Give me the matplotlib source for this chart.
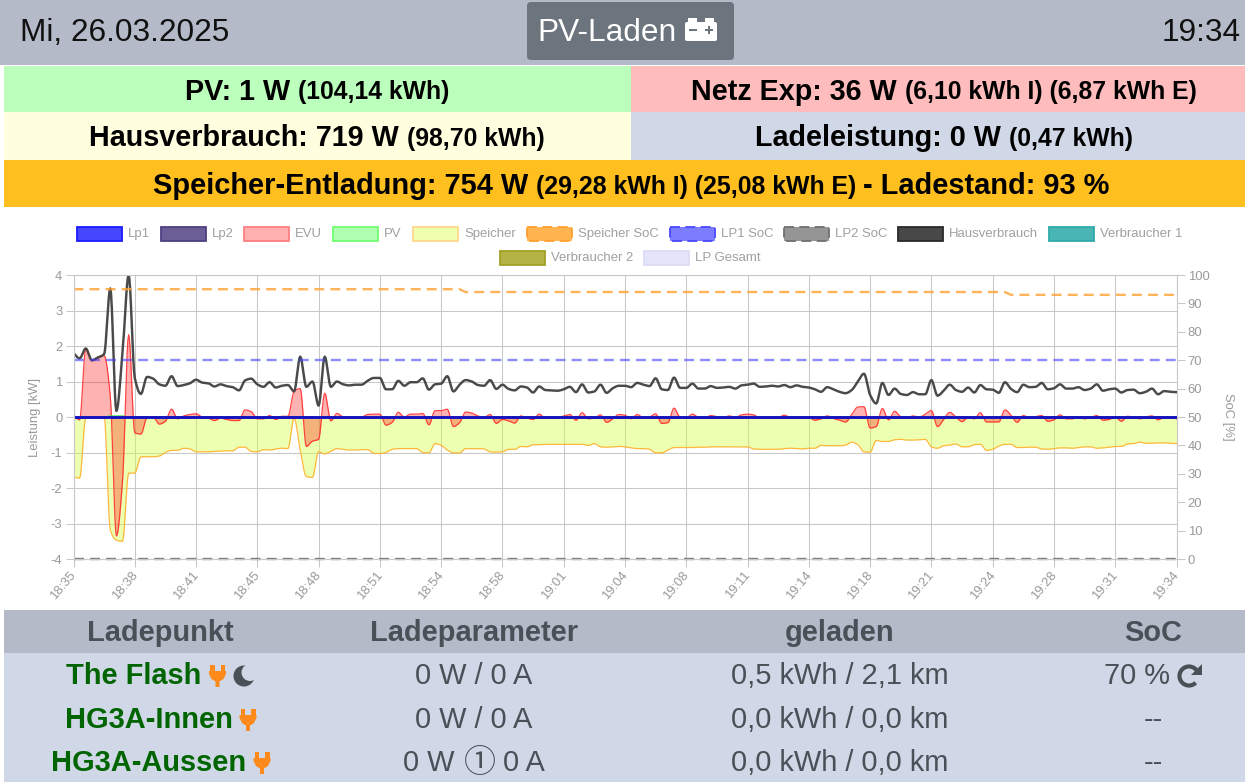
import matplotlib
matplotlib.use("Agg")
import matplotlib.pyplot as plt
from matplotlib.patches import Rectangle, FancyBboxPatch, Circle, Polygon, Arc
from matplotlib.transforms import ScaledTranslation
import numpy as np

plt.rcParams['font.family'] = ['Liberation Sans', 'DejaVu Sans']
plt.rcParams['axes.unicode_minus'] = False

# values, one sample every 10th of a tick interval
haus = [1.8,1.65,1.93,1.6,1.68,1.77,3.62,.17,1.8,4.0,1.1,.65,1.13,1.08,.92,.88,1.15,.87,.9,.95,1.05,.97,.95,.86,.92,.87,.84,.75,1.03,1.08,.92,.85,.98,.83,.88,.9,.72,
        1.7,.85,1.0,.32,1.7,.85,1.0,.92,.89,.91,.91,1.02,1.1,1.1,.78,.78,1.02,.88,.98,.98,1.09,.77,.92,.94,1.15,.72,.91,1.04,1.0,.9,.88,1.04,.79,.91,.79,.75,.86,.83,.69,.86,.76,.75,.74,.78,.85,.7,.92,.69,.72,.91,.68,.81,.88,
        .88,.84,.96,.91,.87,1.09,.78,.76,1.11,.82,.82,.94,.8,.8,.87,.82,.83,.85,.8,.89,.91,.94,.85,.86,.88,.86,.9,.84,.89,.85,.83,.78,.71,.84,.78,.71,.67,.76,1.0,1.22,.62,.38,.96,.62,.8,.65,.62,.7,.64,.64,
        1.04,.6,.74,.91,.76,.71,.83,.69,.9,.78,.77,.68,.98,.79,.7,.91,.84,.85,.96,.78,.81,.92,.8,.8,.84,.76,.8,.92,.74,.78,.8,.69,.76,.77,.67,.71,.8,.64,.73,.71,.7]
evu = [.06,-.08,1.93,1.58,1.65,1.73,.6,-3.35,-1.8,2.32,-.45,-.48,-.02,0,-.2,-.12,.22,-.05,.03,.07,.09,0,-.03,-.1,-.03,-.07,-.1,-.1,.2,.15,-.05,-.05,.04,-.07,.02,.02,.72,
       .8,-.83,-.68,-.63,.67,-.11,.1,.01,0,0,0,.07,.08,.08,-.23,-.15,.13,0,.08,.08,.1,-.22,.18,.18,.22,-.27,-.16,.14,.11,.03,-.01,.07,-.18,-.07,-.11,-.17,.03,-.03,-.07,.08,-.03,-.01,-.01,.03,.07,-.09,.12,-.05,-.03,.06,-.15,-.05,.07,
       .05,-.05,.07,-.02,0,.09,-.18,-.16,.25,-.01,-.03,.08,-.01,-.03,.04,.01,-.02,.03,-.01,.06,.08,.06,-.03,-.01,0,-.01,.05,-.01,0,0,-.01,-.09,-.05,.03,-.04,-.09,-.14,.07,.28,.29,-.31,-.27,.24,-.08,.16,.01,-.03,.03,-.01,.08,
       .18,-.27,-.07,.13,0,-.13,-.01,-.05,.12,-.14,-.14,-.14,.2,.05,-.15,.04,-.02,.01,.04,-.12,-.08,.06,-.05,-.05,0,-.05,-.01,.04,-.09,-.07,0,-.12,.02,-.01,-.05,0,.03,-.08,-.01,-.01,-.05]
speicher = [-1.7,-1.72,-.03,0,0,0,-3.18,-3.47,-3.5,-1.58,-1.58,-1.12,-1.12,-1.12,-1.1,-1.0,-.94,-.94,-.88,-.9,-.98,-.98,-.98,-.97,-.96,-.95,-.95,-.85,-.85,-.97,-.98,-.92,-.93,-.9,-.88,-.89,-.03,
            -.93,-1.68,-1.7,-.98,-1.04,-.96,-.89,-.91,-.93,-.93,-.92,-.92,-1.02,-1.03,-1.0,-.91,-.89,-.89,-.89,-.89,-1.0,-1.01,-.75,-.8,-.93,-1.01,-1.01,-.89,-.89,-.89,-.9,-.98,-.99,-.98,-.91,-.91,-.83,-.84,-.78,-.78,-.77,-.77,-.77,-.77,-.77,-.77,-.77,-.8,-.75,-.84,-.85,-.84,-.83,
            -.84,-.87,-.89,-.89,-.91,-1.01,-1.01,-.93,-.86,-.86,-.86,-.86,-.85,-.85,-.84,-.84,-.84,-.84,-.84,-.84,-.84,-.9,-.91,-.91,-.91,-.91,-.89,-.88,-.89,-.9,-.88,-.88,-.8,-.81,-.81,-.81,-.79,-.71,-.78,-.98,-.99,-.66,-.69,-.69,-.64,-.63,-.65,-.65,-.64,-.63,
            -.84,-.88,-.81,-.79,-.76,-.84,-.84,-.78,-.77,-.94,-.91,-.82,-.77,-.77,-.86,-.86,-.85,-.85,-.9,-.91,-.89,-.87,-.87,-.88,-.86,-.84,-.84,-.88,-.87,-.85,-.83,-.83,-.76,-.75,-.71,-.74,-.74,-.73,-.73,-.74,-.75]
pv = [0]*6 + [.03,.03,.03] + [0]*172
lp1 = [0]*181
lp2 = [0]*181
speicher_soc = [95]*64 + [94]*89 + [93]*28
lp1_soc = [70]*181
lp2_soc = [0]*181
time_labels = ['18:35','18:38','18:41','18:45','18:48','18:51','18:54','18:58','19:01','19:04',
               '19:08','19:11','19:14','19:18','19:21','19:24','19:28','19:31','19:34']

W, H = 1245, 782
fig = plt.figure(figsize=(W/100, H/100), dpi=100, facecolor='white')


def curve(y):
    # monotone cubic drawing of the samples, the way the original chart renders them
    y = np.asarray(y, dtype=float)
    d = np.diff(y)
    m = np.zeros_like(y)
    m[0], m[-1] = d[0], d[-1]
    for i in range(1, len(y)-1):
        if d[i-1]*d[i] > 0:
            m[i] = 2*d[i-1]*d[i]/(d[i-1]+d[i])
    t = np.linspace(0, 1, 8, endpoint=False)
    h00, h10 = 2*t**3-3*t**2+1, t**3-2*t**2+t
    h01, h11 = -2*t**3+3*t**2, t**3-t**2
    xs, ys = [], []
    for i in range(len(d)):
        xs.append(i+t)
        ys.append(h00*y[i]+h10*m[i]+h01*y[i+1]+h11*m[i+1])
    return np.append(np.concatenate(xs), len(d)), np.append(np.concatenate(ys), y[-1])


# ---- chart ----
L, R, T, B = 73.5, 1176.5, 275.0, 559.0
ax = fig.add_axes([L/W, 1-B/H, (R-L)/W, (B-T)/H])
x = np.arange(181)
grid = '#c8c8c8'
tick_txt = '#999999'
fs = 9.4
ax.set_xlim(0, 180)
ax.set_ylim(-4, 4)
ax.set_xticks(x[::10])
ax.set_xticklabels(time_labels, rotation=50, ha='right', va='top', rotation_mode='anchor', color=tick_txt, fontsize=fs)
ax.set_yticks(range(-4, 5))
ax.grid(True, color=grid, lw=0.75)
ax.set_axisbelow(True)
ax.tick_params(axis='both', color=grid, length=6, width=0.75, labelsize=fs, labelcolor=tick_txt, pad=2)
# tick_params resets the label transforms, so this has to come after it
shift = ScaledTranslation(-4/100, 1/100, fig.dpi_scale_trans)
for lab in ax.get_xticklabels():
    lab.set_transform(lab.get_transform() + shift)
for s in ax.spines.values():
    s.set_color(grid)
    s.set_linewidth(0.75)
ax.set_ylabel('Leistung [kW]', color=tick_txt, fontsize=fs, labelpad=7)

sx, sy = curve(speicher)
ax.fill_between(sx, 0, sy, color='#d8ff50', alpha=0.45, lw=0)
ax.plot(sx, sy, color='#ffb030', lw=0.9, alpha=0.9)
ex, ey = curve(evu)
ax.fill_between(ex, 0, ey, color='#ff0000', alpha=0.3, lw=0)
ax.plot(ex, ey, color='#ff3030', lw=0.9, alpha=0.9)
ax.fill_between(x, 0, pv, color='#00ff00', alpha=0.3, lw=0)
ax.plot(x, pv, color='#40e040', lw=0.9)
hx, hy = curve(haus)
ax.plot(hx, hy, color='#404040', lw=1.75, alpha=0.95, solid_joinstyle='round')
ax.plot(x, lp2, color='#3d2a78', lw=2.0)
ax.plot(x, lp1, color='#1010cc', lw=1.8)

ax2 = ax.twinx()
ax2.set_ylim(0, 100)
ax2.set_yticks(range(0, 101, 10))
ax2.tick_params(axis='y', color=grid, length=6, width=0.75, labelsize=fs, labelcolor=tick_txt, pad=2)
for s in ax2.spines.values():
    s.set_color(grid)
    s.set_linewidth(0.75)
dash = (0, (4.2, 2.6))
ax2.plot(x, speicher_soc, color='#ffa030', lw=1.7, alpha=0.8, linestyle=dash)
ax2.plot(x, lp1_soc, color='#4040ff', lw=1.7, alpha=0.6, linestyle=dash)
ax2.plot(x, lp2_soc, color='#555555', lw=1.7, alpha=0.75, linestyle=dash, clip_on=False)
ax2.set_ylabel('SoC [%]', color=tick_txt, fontsize=fs, rotation=-90, labelpad=18)

# ---- page elements, in pixel coordinates ----
ov = fig.add_axes([0, 0, 1, 1], zorder=5)
ov.set_xlim(0, W)
ov.set_ylim(H, 0)
ov.axis('off')
ov.patch.set_alpha(0)
rend = fig.canvas.get_renderer()


def band(x0, y0, x1, y1, c):
    ov.add_patch(Rectangle((x0, y0), x1-x0, y1-y0, fc=c, ec='none'))


def line(cx, base, parts, color='black', weight='bold'):
    # centred run of text pieces with different sizes on one baseline
    txts = [ov.text(0, base, s, fontsize=px*0.72, fontweight=weight, color=color, va='baseline', ha='left') for s, px in parts]
    widths = [t.get_window_extent(rend).width for t in txts]
    pos = cx - sum(widths)/2
    for t, w in zip(txts, widths):
        t.set_x(pos)
        pos += w


def plug(cx, cy, c='#ff8a1c'):
    ov.add_patch(Rectangle((cx-7.5, cy-11), 4.5, 7, fc=c, ec='none'))
    ov.add_patch(Rectangle((cx+3, cy-11), 4.5, 7, fc=c, ec='none'))
    ov.add_patch(Polygon([(cx-8.5, cy-5), (cx+8.5, cy-5), (cx+8.5, cy-2), (cx+6, cy+3), (cx+2, cy+5.5), (cx+2, cy+11),
                          (cx-2, cy+11), (cx-2, cy+5.5), (cx-6, cy+3), (cx-8.5, cy-2)], fc=c, ec='none'))


def moon(cx, cy, bg, c='#495057'):
    ov.add_patch(Circle((cx, cy), 10.5, fc=c, ec='none'))
    ov.add_patch(Circle((cx+6, cy-3.5), 8.5, fc=bg, ec='none'))


def battery(cx, cy, c='white', bg='#6c757d'):
    ov.add_patch(FancyBboxPatch((cx-16, cy-8), 32, 19, boxstyle='round,pad=0,rounding_size=2', fc=c, ec='none'))
    ov.add_patch(Rectangle((cx-13, cy-12.5), 9, 5, fc=c, ec='none'))
    ov.add_patch(Rectangle((cx+4, cy-12.5), 9, 5, fc=c, ec='none'))
    ov.add_patch(Rectangle((cx-12, cy-1.5), 8, 2.2, fc=bg, ec='none'))
    ov.add_patch(Rectangle((cx+4, cy-1.5), 8, 2.2, fc=bg, ec='none'))
    ov.add_patch(Rectangle((cx+6.9, cy-4.4), 2.2, 8, fc=bg, ec='none'))


def redo(cx, cy, c='#495057'):
    ov.add_patch(Arc((cx, cy), 19, 19, theta1=45, theta2=325, lw=3.0, color=c))
    ov.add_patch(Polygon([(cx+13, cy-12), (cx+13, cy-1), (cx+2, cy-1)], fc=c, ec='none'))


slate = '#b4bac8'
pale = '#d0d7e6'
band(0, 0, W, 65, slate)
band(4, 66, 631, 112, '#bcffbc')
band(631, 66, W, 112, '#ffbcbc')
band(4, 112, 631, 160, '#ffffe0')
band(631, 112, W, 160, pale)
band(4, 160, W, 207, '#ffbf1f')
band(4, 610, W, 653, slate)
band(4, 653, W, H, pale)

ov.text(20, 41, 'Mi, 26.03.2025', fontsize=31.7*0.72, va='baseline', color='#111111')
ov.text(1241, 41, '19:34', fontsize=31.7*0.72, va='baseline', ha='right', color='#111111')
ov.add_patch(FancyBboxPatch((527, 2), 207, 58, boxstyle='round,pad=0,rounding_size=4', fc='#6c757d', ec='none'))
ov.text(537.5, 41, 'PV-Laden', fontsize=31.7*0.72, va='baseline', color='white')
battery(701, 30)

line(317, 99.5, [('PV: 1 W ', 28.7), ('(104,14 kWh)', 24.7)])
line(944, 99.5, [('Netz Exp: 36 W ', 28.7), ('(6,10 kWh I) (6,87 kWh E)', 24.7)])
line(317, 146, [('Hausverbrauch: 719 W ', 28.7), ('(98,70 kWh)', 24.7)])
line(944, 146, [('Ladeleistung: 0 W ', 28.7), ('(0,47 kWh)', 24.7)])
line(631, 194, [('Speicher-Entladung: 754 W ', 29), ('(29,28 kWh I) (25,08 kWh E) ', 24.9), ('- Ladestand: 93 %', 29)])

# legend
leg_labels = ['Lp1', 'Lp2', 'EVU', 'PV', 'Speicher', 'Speicher SoC', 'LP1 SoC', 'LP2 SoC', 'Hausverbrauch', 'Verbraucher 1', 'Verbraucher 2', 'LP Gesamt']
leg_x = [77, 161, 244, 333, 413, 527, 670, 784, 898, 1049, 500, 644]
leg_fill = ['#4646ff', '#6b5d95', '#ffb0b0', '#b0ffb0', '#eeffae', '#ffb450', '#7c7cff', '#959595', '#484848', '#4ab5b5', '#b3b346', '#e4e4fb']
leg_edge = ['#1a1aff', '#4d4080', '#ff8080', '#70ff70', '#ffd88a', '#ffa030', '#4848ff', '#707070', '#2a2a2a', '#30aaaa', '#a0a028', '#dcdcf4']
for i, (s, lx, fc, ec) in enumerate(zip(leg_labels, leg_x, leg_fill, leg_edge)):
    ly = 226.5 if i < 10 else 250.5
    ls = (0, (5.5, 3)) if 'SoC' in s else '-'
    ov.add_patch(Rectangle((lx, ly), 45, 14, fc=fc, ec=ec, lw=1.3, ls=ls))
    ov.text(lx+51, ly+7.5, s, fontsize=9.45, color='#a0a0a0', va='center')

# table
grey = '#495057'
heads = ['Ladepunkt', 'Ladeparameter', 'geladen', 'SoC']
cols = [160, 474, 840, 1153]
for c, s in zip(cols, heads):
    ov.text(c, 641, s, fontsize=29*0.72, fontweight='bold', color=grey, ha='center', va='baseline')

names = ['The Flash', 'HG3A-Innen', 'HG3A-Aussen']
name_x = [66, 65, 51]
plug_x = [217.5, 248, 262]
rows = [684, 728, 771]
params = ['0 W / 0 A', '0 W / 0 A', None]
geladen = ['0,5 kWh / 2,1 km', '0,0 kWh / 0,0 km', '0,0 kWh / 0,0 km']
soc = ['70 %', '--', '--']
for n, nx, px, y, p, g, s in zip(names, name_x, plug_x, rows, params, geladen, soc):
    ov.text(nx, y, n, fontsize=29*0.72, fontweight='bold', color='#006400', va='baseline')
    plug(px, y-8)
    if p:
        ov.text(cols[1], y, p, fontsize=29*0.72, color=grey, ha='center', va='baseline')
    ov.text(cols[2], y, g, fontsize=29*0.72, color=grey, ha='center', va='baseline')
    ov.text(1137 if s == '70 %' else cols[3], y, s, fontsize=29*0.72, color=grey, ha='center', va='baseline')
ov.text(403, rows[2], '0 W', fontsize=29*0.72, color=grey, va='baseline')
ov.text(479.5, rows[2]+1, '①', fontsize=32*0.72, color=grey, va='baseline', ha='center', family=['Noto Sans CJK JP', 'DejaVu Sans'])
ov.text(503, rows[2], '0 A', fontsize=29*0.72, color=grey, va='baseline')
moon(244, 676, pale)
redo(1189, 676)

fig.savefig('out.png', dpi=100)
